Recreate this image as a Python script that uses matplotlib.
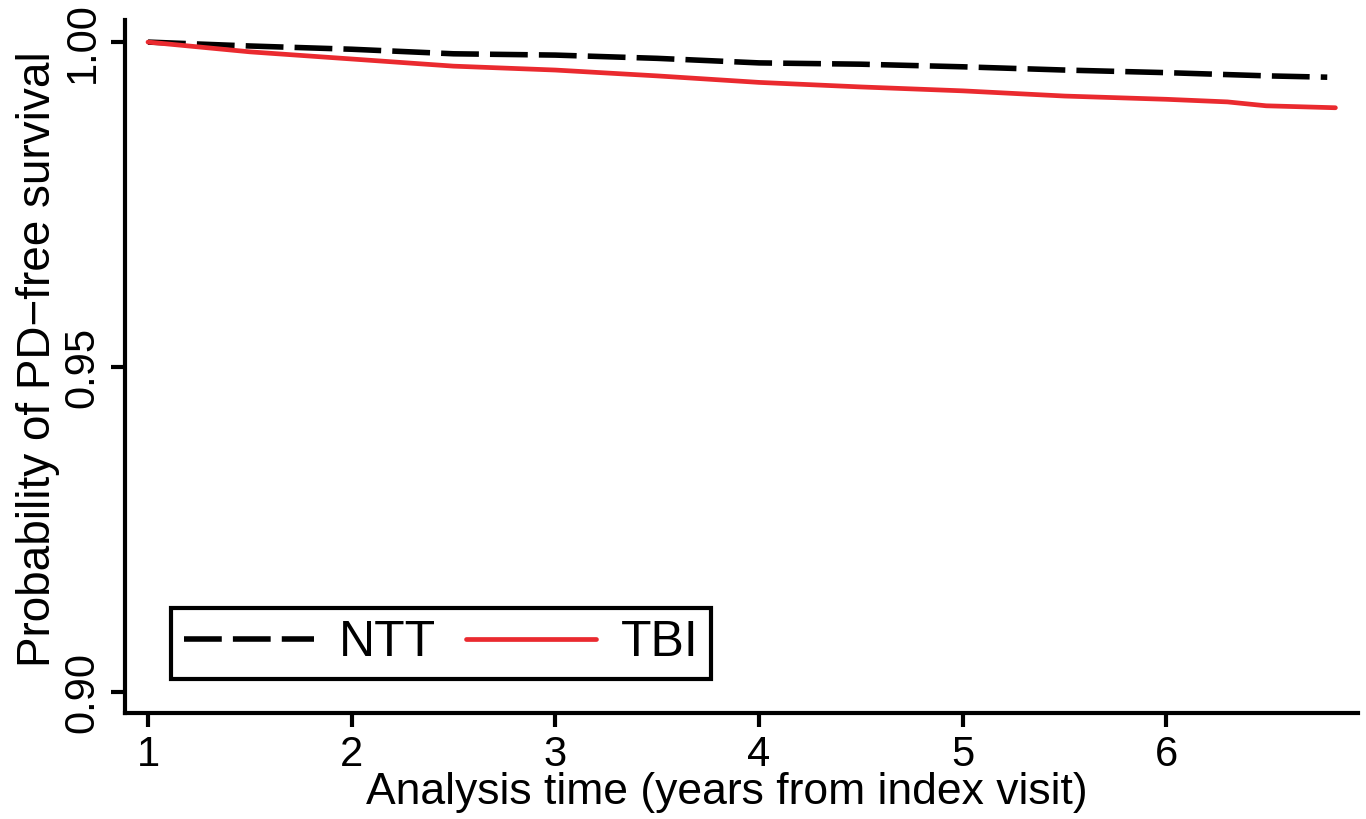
import numpy as np
import matplotlib
matplotlib.use('Agg')
import matplotlib.pyplot as plt

# survival curves
years = [1.0, 1.5, 2.0, 2.5, 3.0, 3.5, 4.0, 4.5, 5.0, 5.5, 6.0, 6.5, 6.79]
ntt = [1.0, 0.9994, 0.9989, 0.9982, 0.9980, 0.9975, 0.9968, 0.9966,
       0.9962, 0.9957, 0.9953, 0.9948, 0.9946]
tbi_years = [1.0, 1.5, 2.0, 2.5, 3.0, 3.5, 4.0, 4.5, 5.0, 5.5, 6.0, 6.3, 6.49, 6.83]
tbi = [1.0, 0.9985, 0.9974, 0.9963, 0.9957, 0.9948, 0.9938, 0.9931,
       0.9925, 0.9917, 0.9912, 0.9908, 0.9902, 0.9899]

plt.rcParams['font.family'] = ['Liberation Sans', 'DejaVu Sans']

fig = plt.figure(figsize=(13.66, 8.19), dpi=100)
ax = fig.add_axes([0.0915, 0.1294, 0.9025, 0.8462])

ax.plot(years, ntt, color='black', linewidth=4.0, dashes=(6.8, 2.0),
        label='NTT', solid_capstyle='butt')
ax.plot(tbi_years, tbi, color='#ea2a2f', linewidth=3.4, label='TBI',
        solid_capstyle='round')

ax.set_xlim(0.887, 6.94)
ax.set_ylim(0.8968, 1.0034)
ax.set_xticks([1, 2, 3, 4, 5, 6])
ax.set_yticks([0.90, 0.95, 1.00])
ax.set_yticklabels(['0.90', '0.95', '1.00'], rotation=90, va='center')

for s in ['top', 'right']:
    ax.spines[s].set_visible(False)
for s in ['left', 'bottom']:
    ax.spines[s].set_linewidth(3.0)
ax.tick_params(length=10, width=3.0, labelsize=30, pad=6)

ax.set_xlabel('Analysis time (years from index visit)', fontsize=32)
ax.set_ylabel('Probability of PD\u2212free survival', fontsize=33)
ax.xaxis.set_label_coords(0.4885, -0.085)
ax.yaxis.set_label_coords(-0.053, 0.51)

leg = ax.legend(loc='lower left', bbox_to_anchor=(171 / 1366, 1 - 679 / 819),
                bbox_transform=fig.transFigure, ncol=2, fontsize=36,
                frameon=True, fancybox=False, shadow=False, framealpha=1,
                handlelength=2.6, handletextpad=0.5, columnspacing=0.6,
                borderpad=0.25, borderaxespad=0)
leg.get_frame().set_edgecolor('black')
leg.get_frame().set_linewidth(3.0)

fig.savefig('out.png', dpi=100)
